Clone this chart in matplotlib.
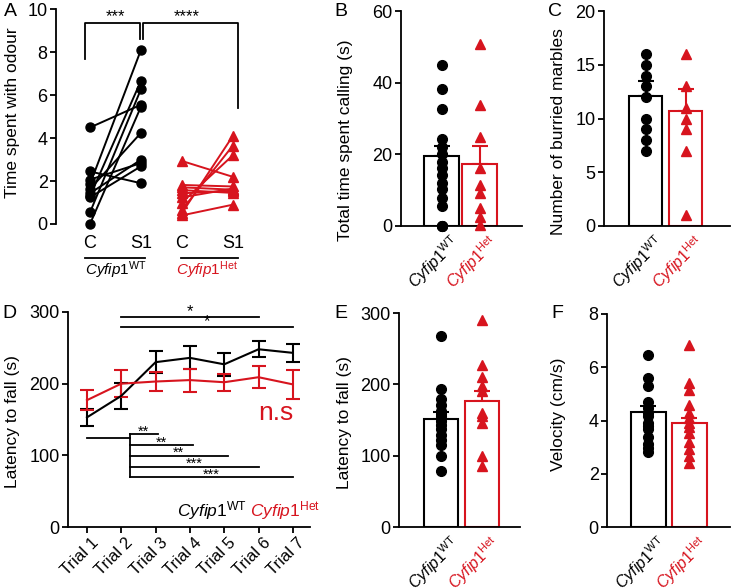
import numpy as np
import matplotlib
matplotlib.use("Agg")
import matplotlib.pyplot as plt
import matplotlib.transforms as mtrans

plt.rcParams['font.family'] = ['Liberation Sans', 'DejaVu Sans']
plt.rcParams['mathtext.fontset'] = 'custom'
plt.rcParams['mathtext.rm'] = 'Liberation Sans'
plt.rcParams['mathtext.it'] = 'Liberation Sans:italic'
plt.rcParams['axes.linewidth'] = 1.3

RED = '#d7141e'
WT_LBL = r'$\mathit{Cyfip1}^{\mathrm{WT}}$'
HET_LBL = r'$\mathit{Cyfip1}^{\mathrm{Het}}$'

# ---- panel A: paired odour data (control vs S1)
a_wt_c = [4.5, 2.45, 2.07, 1.86, 1.63, 1.43, 1.24, 1.3, 0.54, 0.0]
a_wt_s1 = [5.56, 1.9, 2.84, 8.12, 4.25, 3.0, 2.69, 6.68, 6.29, 5.47]
a_het_c = [2.94, 0.5, 0.65, 1.0, 1.82, 1.71, 1.58, 1.43, 1.24, 0.4]
a_het_s1 = [2.2, 4.1, 3.65, 3.2, 1.75, 1.6, 1.45, 1.55, 1.65, 0.9]

# ---- panel B: time spent calling
b_wt = [44.9, 38.1, 32.6, 24.2, 22.1, 20.1, 17.9, 16.1, 14.2, 12.1, 10.2, 7.7, 5.6, 0, 0, 0]
b_het = [50.7, 33.8, 24.9, 16.1, 11.4, 9.1, 4.9, 2.4, 0.2]
b_mean = [19.5, 17.3]
b_sem = [2.9, 5.0]

# ---- panel C: buried marbles
c_wt = [16, 15, 14, 13, 12, 10, 9, 8, 7]
c_het = [16, 13, 11, 10, 9, 7, 1]
c_mean = [12.1, 10.7]
c_sem = [1.4, 2.0]

# ---- panel D: rotarod trials
trials = ['Trial 1', 'Trial 2', 'Trial 3', 'Trial 4', 'Trial 5', 'Trial 6', 'Trial 7']
d_wt_mean = [153, 183, 230, 236, 227, 248, 243]
d_wt_sem = [12, 18, 15, 16, 16, 11, 13]
d_het_mean = [177, 200, 203, 205, 202, 209, 199]
d_het_sem = [14, 19, 13, 16, 12, 15, 20]

# ---- panel E: latency to fall
e_wt = [268, 194, 180, 171, 163, 158, 155, 148, 143, 138, 129, 122, 115, 100, 78]
e_het = [290, 227, 210, 197, 190, 160, 155, 146, 99, 85]
e_mean = [151, 176]
e_sem = [10, 14]

# ---- panel F: velocity
f_wt = [6.46, 5.59, 5.3, 4.71, 4.46, 4.3, 4.17, 3.92, 3.8, 3.67, 3.39, 3.12, 2.95, 2.83]
f_het = [6.84, 5.42, 5.15, 4.59, 4.3, 4.09, 3.9, 3.77, 3.52, 3.21, 2.92, 2.67, 2.39]
f_mean = [4.31, 3.9]
f_sem = [0.24, 0.19]

W, H = 731, 588
fig = plt.figure(figsize=(W / 100, H / 100), dpi=100)


def px_axes(x0, x1, ytop, ybot):
    return fig.add_axes([x0 / W, 1 - ybot / H, (x1 - x0) / W, (ybot - ytop) / H])


def shift_labels(labels, dx_px):
    off = mtrans.ScaledTranslation(dx_px / 100, 0, fig.dpi_scale_trans)
    for lb in labels:
        lb.set_transform(lb.get_transform() + off)


def style(ax):
    ax.spines['top'].set_visible(False)
    ax.spines['right'].set_visible(False)
    ax.tick_params(axis='y', labelsize=13, length=4, width=1.3, pad=2)


def bar_panel(ax, wt, het, mean, sem, ylim, yticks, ylabel, lab_xy, xlim, width):
    style(ax)
    ax.bar([0, 1], mean, width=width, color='white', edgecolor=['black', RED],
           linewidth=1.5, zorder=2)
    for i, c in enumerate(['black', RED]):
        ax.errorbar(i, mean[i], yerr=[[0], [sem[i]]], color=c, lw=1.5,
                    capsize=6, capthick=1.5, zorder=1)
    ax.plot(np.zeros(len(wt)), wt, 'o', color='black', ms=7, clip_on=False, zorder=3)
    ax.plot(np.ones(len(het)), het, '^', color=RED, ms=7, mec=RED, clip_on=False, zorder=3)
    ax.set_ylim(*ylim)
    ax.set_yticks(yticks)
    ax.set_xlim(*xlim)
    ax.set_xticks([0, 1])
    ax.set_xticklabels([WT_LBL, HET_LBL], rotation=45, ha='right',
                       rotation_mode='anchor', fontsize=11.5)
    ax.get_xticklabels()[1].set_color(RED)
    ax.tick_params(axis='x', length=0, pad=4)
    shift_labels(ax.get_xticklabels(), 8)
    ax.set_ylabel(ylabel, fontsize=12.5)
    ax.yaxis.set_label_coords(*lab_xy)


# ---------------- A
axA = px_axes(56, 245, 9.5, 224)
style(axA)
axA.spines['bottom'].set_visible(False)
xa = [0, 1, 1.8, 2.8]
for c, s in zip(a_wt_c, a_wt_s1):
    axA.plot([xa[0], xa[1]], [c, s], '-o', color='black', lw=1.4, ms=6.5, clip_on=False)
for c, s in zip(a_het_c, a_het_s1):
    axA.plot([xa[2], xa[3]], [c, s], '-^', color=RED, lw=1.4, ms=6.5, clip_on=False)
axA.set_ylim(0, 10)
axA.set_yticks([0, 2, 4, 6, 8, 10])
axA.set_xlim(-0.667, 3.04)
axA.set_xticks(xa)
axA.set_xticklabels(['C', 'S1', 'C', 'S1'], fontsize=13)
axA.tick_params(axis='x', length=0, pad=8)
axA.set_ylabel('Time spent with odour', fontsize=12.5)
axA.yaxis.set_label_coords(-0.19, 0.52)
tr = axA.get_xaxis_transform()
axA.plot([xa[0] - 0.1, xa[1] + 0.08], [-0.158, -0.158], color='black', lw=1.3,
         transform=tr, clip_on=False)
axA.plot([xa[2] - 0.02, xa[3] + 0.1], [-0.158, -0.158], color='black', lw=1.3,
         transform=tr, clip_on=False)
axA.text((xa[0] + xa[1]) / 2, -0.215, WT_LBL, transform=tr, ha='center', va='center', fontsize=11)
axA.text((xa[2] + xa[3]) / 2, -0.215, HET_LBL, transform=tr, ha='center', va='center',
         fontsize=11, color=RED)
# significance brackets
axA.plot([xa[0] - 0.1, xa[0] - 0.1, xa[1] - 0.02, xa[1] - 0.02], [7.7, 9.38, 9.38, 8.62],
         color='black', lw=1.3, clip_on=False)
axA.plot([xa[1] + 0.04, xa[1] + 0.04, xa[3] + 0.1, xa[3] + 0.1], [8.62, 9.38, 9.38, 5.4],
         color='black', lw=1.3, clip_on=False)
axA.text((xa[0] + xa[1]) / 2, 9.3, '***', ha='center', va='bottom', fontsize=12)
axA.text((xa[1] + xa[3]) / 2, 9.3, '****', ha='center', va='bottom', fontsize=12)

# ---------------- B
axB = px_axes(401, 522, 11, 226)
bar_panel(axB, b_wt, b_het, b_mean, b_sem, (0, 60), [0, 20, 40, 60],
          'Total time spent calling (s)', (-0.40, 0.40), (-1.066, 2.118), 0.92)

# ---------------- C
axC = px_axes(604, 730, 11, 226)
bar_panel(axC, c_wt, c_het, c_mean, c_sem, (0, 20), [0, 5, 10, 15, 20],
          'Number of burried marbles', (-0.30, 0.44), (-1.04, 2.11), 0.83)

# ---------------- D
axD = px_axes(68, 310, 312, 527)
style(axD)
xt = np.arange(1, 8)
axD.errorbar(xt, d_wt_mean, yerr=d_wt_sem, color='black', lw=1.5, capsize=5, capthick=1.5)
axD.errorbar(xt, d_het_mean, yerr=d_het_sem, color=RED, lw=1.5, capsize=5, capthick=1.5)
axD.set_ylim(0, 300)
axD.set_yticks([0, 100, 200, 300])
axD.set_xlim(0.447, 7.5)
axD.set_xticks(xt)
axD.set_xticklabels(trials, rotation=45, ha='right', rotation_mode='anchor', fontsize=12)
axD.tick_params(axis='x', length=4, width=1.3, pad=2)
shift_labels(axD.get_xticklabels(), 4)
axD.set_ylabel('Latency to fall (s)', fontsize=12.5)
axD.yaxis.set_label_coords(-0.20, 0.49)
# top comparisons
for y, x_end in [(292.6, 6), (279.5, 7)]:
    axD.plot([2, x_end], [y, y], color='black', lw=1.3)
    axD.text((2 + x_end) / 2, y - 3, '*', ha='center', va='bottom', fontsize=12)
# trial 2 vs later trials
xb = 2.25
axD.plot([1, xb], [124.6, 124.6], color='black', lw=1.3)
axD.plot([xb, xb], [129.3, 69.3], color='black', lw=1.3)
for y, x_end, s in [(129.3, 3.07, '**'), (114.4, 4.08, '**'), (99.5, 5.1, '**'),
                    (84.2, 6, '***'), (69.3, 7, '***')]:
    axD.plot([xb, x_end], [y, y], color='black', lw=1.3)
    axD.text((xb + x_end) / 2, y - 6, s, ha='center', va='bottom', fontsize=10.5)
axD.text(6.5, 159, 'n.s', color=RED, fontsize=19, ha='center', va='center')
axD.text(5.65, 7, WT_LBL, ha='right', va='bottom', fontsize=12.5)
axD.text(5.75, 7, HET_LBL, ha='left', va='bottom', fontsize=12.5, color=RED)

# ---------------- E
axE = px_axes(399, 520, 313, 527)
bar_panel(axE, e_wt, e_het, e_mean, e_sem, (0, 300), [0, 100, 200, 300],
          'Latency to fall (s)', (-0.39, 0.49), (-1.037, 1.95), 0.84)

# ---------------- F
axF = px_axes(607, 730, 314, 527)
bar_panel(axF, f_wt, f_het, f_mean, f_sem, (0, 8), [0, 2, 4, 6, 8],
          'Velocity (cm/s)', (-0.33, 0.53), (-1.012, 1.988), 0.85)

# panel letters
for lt, x, y in [('A', 4, 12), ('B', 334, 12), ('C', 548, 12),
                 ('D', 2, 313), ('E', 334, 313), ('F', 551, 313)]:
    fig.text(x / W, 1 - y / H, lt, fontsize=14, ha='left', va='center')

fig.savefig('out.png', dpi=100)
